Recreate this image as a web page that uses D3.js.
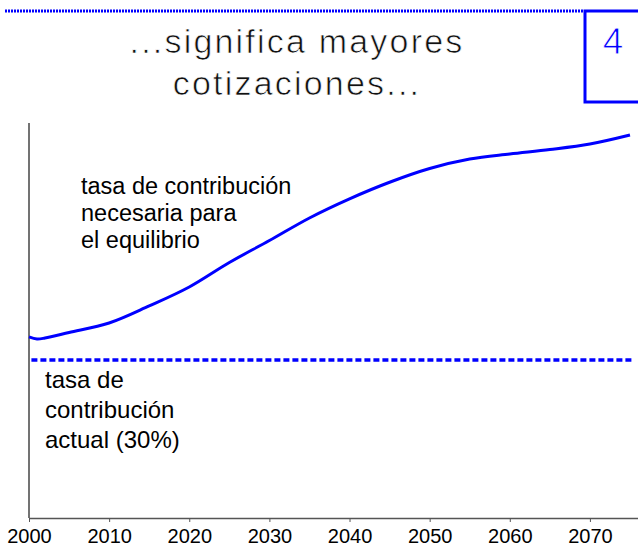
<!DOCTYPE html>
<html>
<head>
<meta charset="utf-8">
<script src="https://cdn.jsdelivr.net/npm/d3@7"></script>
<style>
  body { margin: 0; background: #fff; }
  #chart-container { width: 638px; height: 548px; }
</style>
</head>
<body>
<div id="chart-container"></div>
<script>
// data
var years = [2000, 2001, 2002, 2005, 2010, 2015, 2020, 2025, 2030, 2035, 2040, 2045, 2050, 2055, 2060, 2065, 2070, 2075];
var rateNeeded = [31.46, 31.33, 31.39, 31.74, 32.34, 33.42, 34.62, 36.17, 37.56, 38.99, 40.2, 41.25, 42.12, 42.72, 43.04, 43.32, 43.67, 44.24];
var currentRate = 30;
var tickYears = [2000, 2010, 2020, 2030, 2040, 2050, 2060, 2070];
var titleLines = ["...significa mayores", "cotizaciones..."];
var upperLabel = ["tasa de contribución", "necesaria para", "el equilibrio"];
var lowerLabel = ["tasa de", "contribución", "actual (30%)"];

var width = 638, height = 548;
var margin = { top: 123, right: 0, bottom: 30, left: 29 };
var font = "Liberation Sans, Arial, sans-serif";

var svg = d3.select("#chart-container")
    .append("svg")
    .attr("width", width)
    .attr("height", height);

// scales
var x = d3.scaleLinear().domain([2000, 2076]).range([margin.left, width - margin.right]);
var y = d3.scaleLinear().domain([20, 45]).range([height - margin.bottom, margin.top]);

var blue = "#0000ff";

// header: dotted rule + number box
svg.append("line")
    .attr("x1", 5).attr("x2", 584)
    .attr("y1", 11).attr("y2", 11)
    .attr("stroke", blue)
    .attr("stroke-width", 3)
    .attr("stroke-dasharray", "2,1");

svg.append("rect")
    .attr("x", 585).attr("y", 11)
    .attr("width", 60).attr("height", 91)
    .attr("fill", "none")
    .attr("stroke", blue)
    .attr("stroke-width", 3);

svg.append("text")
    .attr("x", 613).attr("y", 54)
    .attr("text-anchor", "middle")
    .style("font-family", font)
    .style("font-size", "37px")
    .attr("fill", blue)
    .attr("stroke", "#fff")
    .attr("stroke-width", 0.9)
    .text("4");

// thin-looking title (white stroke over the fill slims the glyphs)
svg.selectAll(".title")
    .data(titleLines)
    .enter().append("text")
    .attr("class", "title")
    .attr("x", 297)
    .attr("y", function(d, i) { return 53 + i * 42; })
    .attr("text-anchor", "middle")
    .style("font-family", font)
    .style("font-size", "34px")
    .style("letter-spacing", "2.2px")
    .attr("fill", "#111")
    .attr("stroke", "#fff")
    .attr("stroke-width", 0.7)
    .text(function(d) { return d; });

// axes
var xAxis = svg.append("g")
    .attr("transform", "translate(0," + (height - margin.bottom) + ")")
    .call(d3.axisBottom(x).tickValues(tickYears).tickFormat(d3.format("d")).tickSize(4).tickSizeOuter(0));
xAxis.select(".domain").attr("stroke", "#555").attr("stroke-width", 1.5);
xAxis.selectAll(".tick line").attr("stroke", "#555");
xAxis.selectAll(".tick text")
    .attr("y", 25)
    .attr("dy", 0)
    .style("font-family", font)
    .style("font-size", "20px")
    .attr("fill", "#000");

svg.append("line")
    .attr("x1", x(2000)).attr("x2", x(2000))
    .attr("y1", margin.top).attr("y2", height - margin.bottom)
    .attr("stroke", "#444")
    .attr("stroke-width", 1.5);

// current rate (dashed)
svg.append("line")
    .attr("x1", x(2000.3)).attr("x2", x(2075.3))
    .attr("y1", y(currentRate)).attr("y2", y(currentRate))
    .attr("stroke", blue)
    .attr("stroke-width", 3.5)
    .attr("stroke-dasharray", "6,3");

// required rate curve
var line = d3.line()
    .x(function(d, i) { return x(years[i]); })
    .y(function(d) { return y(d); })
    .curve(d3.curveCatmullRom.alpha(0.5));

svg.append("path")
    .datum(rateNeeded)
    .attr("fill", "none")
    .attr("stroke", blue)
    .attr("stroke-width", 3)
    .attr("d", line);

// labels
svg.selectAll(".upper")
    .data(upperLabel)
    .enter().append("text")
    .attr("class", "upper")
    .attr("x", 81)
    .attr("y", function(d, i) { return 194 + i * 27; })
    .style("font-family", font)
    .style("font-size", "23.5px")
    .attr("fill", "#000")
    .text(function(d) { return d; });

svg.selectAll(".lower")
    .data(lowerLabel)
    .enter().append("text")
    .attr("class", "lower")
    .attr("x", 45)
    .attr("y", function(d, i) { return 388 + i * 30; })
    .style("font-family", font)
    .style("font-size", "24px")
    .attr("fill", "#000")
    .text(function(d) { return d; });
</script>
</body>
</html>
